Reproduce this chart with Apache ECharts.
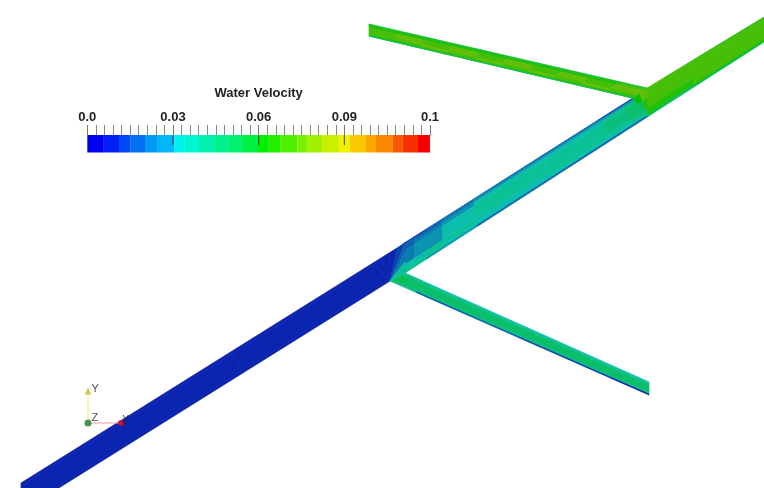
<!DOCTYPE html>
<html><head><meta charset="utf-8">
<style>html,body{margin:0;padding:0;background:#fff}#c{width:764px;height:488px;filter:blur(0.55px)}</style>
<script src="https://cdn.jsdelivr.net/npm/echarts@6/dist/echarts.min.js"></script>
</head><body><div id="c"></div>
<script>
// Colour legend: band edges (velocity) and band colours
const bandEdges = [0,.0058,.0111,.0150,.0202,.0244,.0304,.0339,.0391,.0444,.0493,.0545,.0598,.0633,.0675,.0735,.0769,.0822,.0881,.0920,.0976,.1011,.1070,.1105,.1158,.12];
const bandColors = ['#0000f0','#0020f5','#0048f5','#0070f5','#0098f5','#00b8f5','#00f0f0','#00f5d0','#00f0b0','#00f090','#00f070','#00f040','#00f000','#20f000','#50f000','#78f000','#a0f000','#c8f000','#f0f000','#f8c800','#f8a800','#f88800','#f85800','#f83000','#f80000'];
const scaleMax = 0.12;
const scaleMajor = [0,0.03,0.06,0.09,0.12];
const scaleLabels = ['0.0','0.03','0.06','0.09','0.1'];
const lightFactor = [0.74,0.74,0.68];
const ambient = [10,12,8];

// Flow field, as patches in scene units. corners: start-top, end-top, end-bottom, start-bottom
const lowerPipe = {corners:[[21,483],[373,263],[390,281],[21,511.6]], along:[0,.6,.93,1], across:[0,.1,.9,1],
  values:[[.007,.007,.007],[.007,.007,.007],[.009,.007,.007]]};
const midPipe = {corners:[[405,242.5],[632.7,98],[648,116.5],[405,273]], along:[0,.04,.09,.16,.3,.6,.85,.95,1], across:[0,.05,.13,.25,.72,.86,.95,1],
  values:[[.013,.016,.019,.024,.032,.038,.042],[.014,.017,.021,.026,.033,.038,.034],[.015,.019,.024,.030,.034,.034,.028],[.016,.021,.027,.032,.035,.032,.026],[.017,.025,.031,.034,.033,.031,.017],[.017,.028,.032,.036,.034,.031,.016],[.013,.030,.036,.040,.038,.032,.016],[.012,.030,.040,.045,.043,.036,.018]]};
const jointPatch = {corners:[[632.7,98],[647,88],[648,116.5],[648,116.5]], along:[0,.5,1], across:[0,.35,.7,1],
  values:[[.062,.052,.046],[.074,.064,.054]]};
const upperPipe = {corners:[[647,88],[764,17],[764,42],[648,116.5]], along:[0,.15,.4,.7,1], across:[0,.05,.3,.7,.92,.98,1],
  values:[[.074,.072,.068,.066,.058,.040],[.068,.070,.069,.066,.058,.040],[.064,.068,.070,.068,.060,.044],[.066,.068,.070,.068,.062,.050]]};
const upperBranch = {corners:[[369,24],[647,88],[632.7,98],[369,36]], along:[0,.1,.2,.3,.4,.5,.6,.7,.8,.9,1], across:[0,.1,.3,.7,.9,1],
  values:[[.056,.066,.070,.069,.066,.052],[.056,.066,.074,.071,.066,.052],[.056,.066,.070,.074,.066,.052],[.056,.066,.074,.070,.066,.052],[.056,.066,.071,.074,.066,.052],[.056,.066,.074,.070,.066,.052],[.056,.066,.070,.074,.066,.052],[.056,.066,.074,.071,.066,.052],[.056,.066,.071,.074,.066,.052],[.058,.068,.074,.071,.066,.050]]};
const lowerBranch = {corners:[[405,273],[649,382],[649,395],[390,281]], along:[0,.04,.1,.5,.85,1], across:[0,.1,.22,.8,.93,1],
  values:[[.036,.044,.050,.048,.040],[.033,.040,.047,.045,.034],[.032,.037,.046,.042,.020],[.032,.037,.045,.040,.012],[.031,.037,.046,.040,.008]]};
const patches = [lowerPipe, midPipe, jointPatch, upperPipe, upperBranch, lowerBranch];

// Fan of cells at the first junction: apex and rim in scene units
const fanApex = [390,281];
const fanRim = [[373,263],[381,258],[389,253],[397,248],[405,242.5],[405,252],[405,262],[405,273]];
const fanValues = [.007,.009,.011,.013,.017,.024,.034];

// Orientation triad
const triadOrigin = [88,423];
const triadYTip = [88,391];
const triadXTip = [121,423];

function lerp(a,b,t){return [a[0]+(b[0]-a[0])*t,a[1]+(b[1]-a[1])*t];}
function bandIndex(v){for(let i=0;i<bandColors.length;i++){if(v<bandEdges[i+1])return i;}return bandColors.length-1;}
function shaded(v){
  const h=bandColors[bandIndex(v)];
  const n=[1,3,5].map((i,k)=>Math.round(parseInt(h.substr(i,2),16)*lightFactor[k]+ambient[k]));
  return 'rgb('+n.join(',')+')';
}
// Cells: [value, then x,y pairs]
const cells=[];
patches.forEach(p=>{
  const [A,B,C,D]=p.corners;
  p.values.forEach((row,i)=>row.forEach((v,j)=>{
    const pt=(t,s)=>lerp(lerp(A,B,t),lerp(D,C,t),s);
    const t0=p.along[i],t1=p.along[i+1],s0=p.across[j],s1=p.across[j+1];
    cells.push([v].concat(pt(t0,s0),pt(t1,s0),pt(t1,s1),pt(t0,s1)));
  }));
});
fanValues.forEach((v,i)=>cells.push([v].concat(fanApex,fanRim[i],fanRim[i+1])));

const chart=echarts.init(document.getElementById('c'),null,{renderer:'canvas'});
const FONT='"Liberation Sans",Arial,sans-serif';
const textCol='#222';
chart.setOption({
  animation:false,
  backgroundColor:'#fff',
  grid:[{left:0,top:0,width:764,height:488},{left:87.3,top:135,width:342.7,height:17.5}],
  xAxis:[
    {gridIndex:0,type:'value',min:0,max:764,show:false},
    {gridIndex:1,type:'value',min:0,max:scaleMax,interval:0.03,position:'top',
     name:'Water Velocity',nameLocation:'middle',nameGap:35,
     nameTextStyle:{fontFamily:FONT,fontSize:13,fontWeight:'bold',color:textCol},
     axisLine:{show:false,onZero:false},splitLine:{show:false},
     axisTick:{show:true,length:10,inside:false,lineStyle:{color:'#777',width:1}},
     minorTick:{show:true,splitNumber:10,length:10,lineStyle:{color:'#888',width:1}},
     axisLabel:{show:true,margin:11,fontFamily:FONT,fontSize:13,fontWeight:'bold',color:textCol,
       hideOverlap:false,
       formatter:v=>{const i=scaleMajor.findIndex(m=>Math.abs(m-v)<1e-9);return i<0?'':scaleLabels[i];}}}
  ],
  yAxis:[
    {gridIndex:0,type:'value',min:0,max:488,inverse:true,show:false},
    {gridIndex:1,type:'value',min:0,max:1,show:false}
  ],
  series:[
    {type:'custom',xAxisIndex:0,yAxisIndex:0,clip:true,coordinateSystem:'cartesian2d',
     data:cells.map((c,i)=>[c[1],c[2],i]),encode:{x:0,y:1},
     renderItem:(params,api)=>{
       const c=cells[params.dataIndex];
       const pts=[];
       for(let k=1;k<c.length;k+=2)pts.push(api.coord([c[k],c[k+1]]));
       const col=shaded(c[0]);
       return {type:'polygon',shape:{points:pts},style:{fill:col,stroke:col,lineWidth:0.7}};
     }},
    {type:'custom',xAxisIndex:1,yAxisIndex:1,
     data:bandColors.map((col,i)=>[bandEdges[i],bandEdges[i+1],i]),encode:{x:[0,1]},
     renderItem:(params,api)=>{
       const a=api.coord([api.value(0),1]),b=api.coord([api.value(1),0]);
       return {type:'rect',shape:{x:a[0],y:a[1],width:b[0]-a[0],height:b[1]-a[1]},style:{fill:bandColors[params.dataIndex]}};
     }},
    {type:'custom',xAxisIndex:1,yAxisIndex:1,z:5,
     data:scaleMajor.slice(1,4).map(v=>[v]),encode:{x:0},
     renderItem:(params,api)=>{
       const a=api.coord([api.value(0),1]),b=api.coord([api.value(0),0.42]);
       return {type:'line',shape:{x1:a[0],y1:a[1],x2:b[0],y2:b[1]},style:{stroke:'#444',lineWidth:1}};
     }},
    {type:'line',xAxisIndex:0,yAxisIndex:0,data:[triadOrigin,triadYTip],symbol:'none',silent:true,lineStyle:{color:'#f2f08a',width:1.2},z:6},
    {type:'line',xAxisIndex:0,yAxisIndex:0,data:[triadOrigin,triadXTip],symbol:'none',silent:true,lineStyle:{color:'#e8a0aa',width:1.2},z:6},
    {type:'scatter',xAxisIndex:0,yAxisIndex:0,z:7,symbolSize:7,
     label:{show:true,position:'right',distance:1,fontFamily:FONT,fontSize:11,color:'#222',formatter:p=>p.name},
     data:[
       {name:'Y',value:triadYTip,symbol:'triangle',itemStyle:{color:'#c8c030'},label:{offset:[-1,-2]}},
       {name:'X',value:triadXTip,symbol:'circle',symbolSize:6,itemStyle:{color:'#e01020'},label:{offset:[-3,-3]}},
       {name:'Z',value:triadOrigin,symbol:'circle',symbolSize:7,itemStyle:{color:'#207828'},label:{offset:[-1,-5]}}
     ]}
  ]
});
</script></body></html>
